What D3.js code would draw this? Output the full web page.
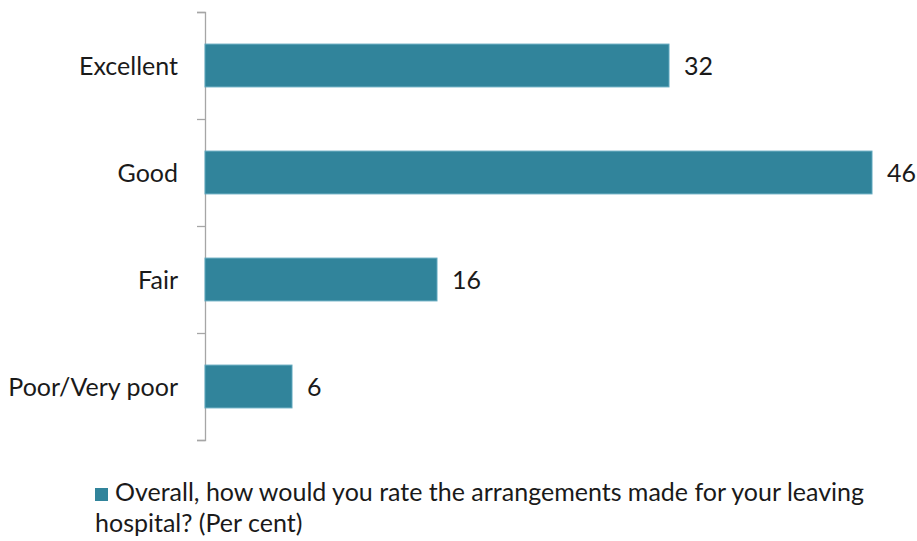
<!DOCTYPE html>
<html><head><meta charset="utf-8">
<script src="https://cdn.jsdelivr.net/npm/d3@7"></script>
<style>body{margin:0;background:#fff}svg{display:block}text{font-family:Lato,"Open Sans",sans-serif;fill:#1a1a1a}</style>
</head><body><svg id="c" width="917" height="541"></svg>
<script>
const categories = ["Excellent", "Good", "Fair", "Poor/Very poor"];
const values = [32, 46, 16, 6];
const legendLines = ["Overall, how would you rate the arrangements made for your leaving", "hospital? (Per cent)"];

const svg = d3.select("#c");
const x0 = 205, yTop = 12, yBottom = 440, fs = 25;
const x = d3.scaleLinear().domain([0, 46]).range([x0, 872]);
const y = d3.scaleBand().domain(categories).range([yTop, yBottom]).paddingInner(0.6).paddingOuter(0.3);
const tickScale = d3.scaleLinear().domain([0, categories.length]).range([yTop, yBottom]);

svg.append("g").attr("transform", `translate(${x0},0)`)
  .call(d3.axisLeft(tickScale).ticks(categories.length).tickSize(8).tickFormat(""))
  .call(g => { g.selectAll("path,line").attr("stroke", "#a6a6a6").attr("stroke-width", 1.3); });

svg.append("g").selectAll("rect").data(values).join("rect")
  .attr("x", x(0)).attr("y", (d, i) => y(categories[i]))
  .attr("width", d => x(d) - x(0)).attr("height", y.bandwidth())
  .attr("fill", "#31849b").attr("stroke", "#5fa7bd").attr("stroke-width", 1);

svg.append("g").selectAll("text").data(values).join("text")
  .attr("x", d => x(d) + 15).attr("y", (d, i) => y(categories[i]) + y.bandwidth() / 2)
  .attr("dy", "0.36em").attr("font-size", fs).text(d => d);

svg.append("g").selectAll("text").data(categories).join("text")
  .attr("x", 178).attr("y", d => y(d) + y.bandwidth() / 2)
  .attr("dy", "0.36em").attr("text-anchor", "end").attr("font-size", fs).text(d => d);

const lg = svg.append("g");
lg.append("rect").attr("x", 95).attr("y", 488).attr("width", 13).attr("height", 13).attr("fill", "#31849b");
lg.selectAll("text").data(legendLines).join("text")
  .attr("x", (d, i) => i === 0 ? 115 : 95).attr("y", (d, i) => 501 + i * 31)
  .attr("font-size", fs).text(d => d);
</script></body></html>
